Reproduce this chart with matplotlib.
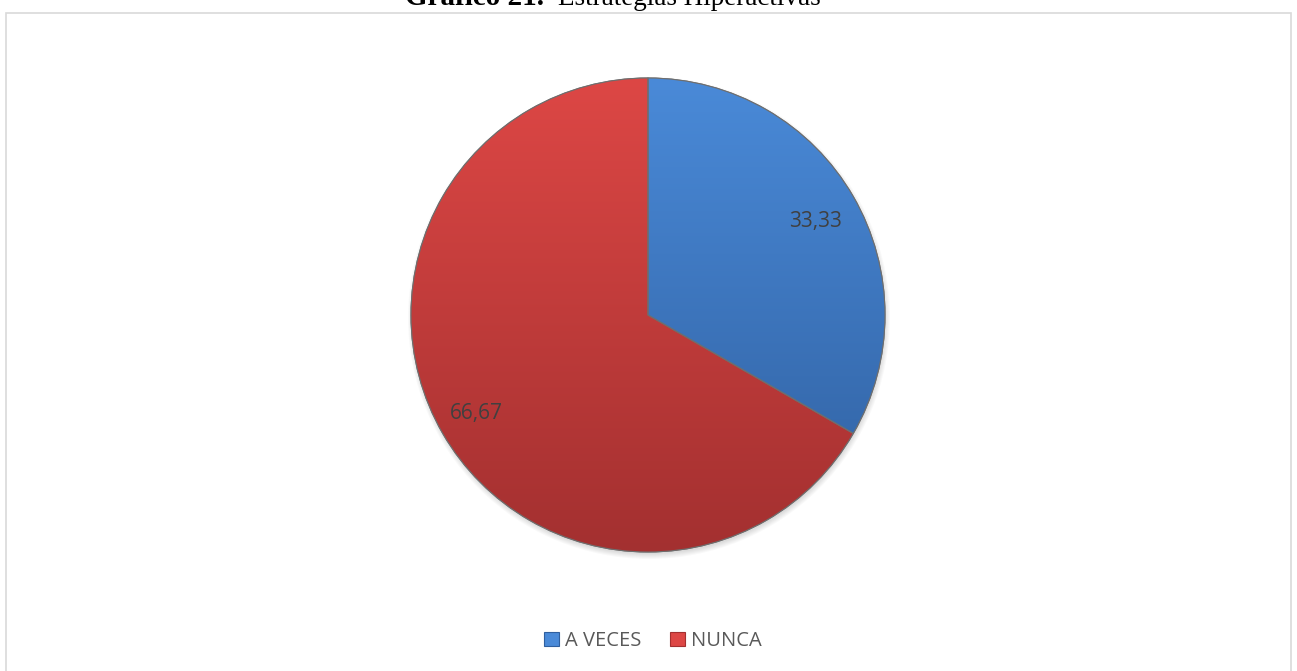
import numpy as np
import matplotlib
matplotlib.use('Agg')
import matplotlib.pyplot as plt
from matplotlib.patches import Patch, Rectangle, Wedge, Circle
from matplotlib.colors import LinearSegmentedColormap

labels = ['A VECES', 'NUNCA']
values = [33.33, 66.67]
value_text = ['33,33', '66,67']
top_colors = ['#4a8ad8', '#dd4745']
bottom_colors = ['#2f5f9f', '#a33030']

W, H = 1297, 671
fig = plt.figure(figsize=(W / 100, H / 100), dpi=100)
ax = fig.add_axes([0, 0, 1, 1])

cx, cy, r = 648, H - 315, 237

# soft shadow under the pie
for k in range(6):
    ax.add_patch(Circle((cx + 1, cy - 3), r + 4 - k, color='black',
                        alpha=0.025, lw=0, zorder=1))

wedges, _ = ax.pie(values, center=(cx, cy), radius=r, startangle=90,
                   counterclock=False, colors=top_colors,
                   wedgeprops=dict(linewidth=0.8, edgecolor='#7a7a7a'))

# vertical gradient inside each slice
grad = np.linspace(1, 0, 256).reshape(-1, 1)
for w, c1, c2 in zip(wedges, top_colors, bottom_colors):
    w.set_zorder(2)
    cmap = LinearSegmentedColormap.from_list('g', [c2, c1])
    im = ax.imshow(grad, cmap=cmap, aspect='auto', origin='upper',
                   extent=(cx - r, cx + r, cy - r, cy + r), zorder=3)
    im.set_clip_path(w)
    ax.add_patch(Wedge(w.center, w.r, w.theta1, w.theta2, fill=False, lw=0.8,
                       edgecolor='#6e6e6e', zorder=4))

# data labels
ax.text(816, H - 221, value_text[0], ha='center', va='center', fontsize=15,
        color='#404040', family='Open Sans', zorder=5)
ax.text(476, H - 413, value_text[1], ha='center', va='center', fontsize=15,
        color='#404040', family='Open Sans', zorder=5)

ax.set_xlim(0, W)
ax.set_ylim(0, H)
ax.set_aspect('auto')
ax.axis('off')

# chart border
ax.add_patch(Rectangle((5.5, -5), 1285, H - 12.5 + 5, fill=False,
                       edgecolor='#d9d9d9', lw=1.2, zorder=0))

handles = [Patch(facecolor=c, edgecolor=b, lw=0.8) for c, b in zip(top_colors, bottom_colors)]
leg = ax.legend(handles, labels, loc='center', bbox_to_anchor=(653 / W, 1 - 641 / H),
                ncol=2, frameon=False, handlelength=0.75, handleheight=0.75,
                handletextpad=0.3, columnspacing=1.4,
                prop={'family': 'Open Sans', 'size': 14.5})
for t in leg.get_texts():
    t.set_color('#595959')

# title, sitting at the very top like the source
fig.text(405 / W, 1 - 5 / H, 'Gráfico 21.', ha='left', va='baseline',
         fontsize=21, family='Liberation Serif', fontweight='bold')
fig.text(558 / W, 1 - 5 / H, 'Estrategias Hiperactivas', ha='left', va='baseline',
         fontsize=19.5, family='Liberation Serif')

fig.savefig('out.png', dpi=100)
